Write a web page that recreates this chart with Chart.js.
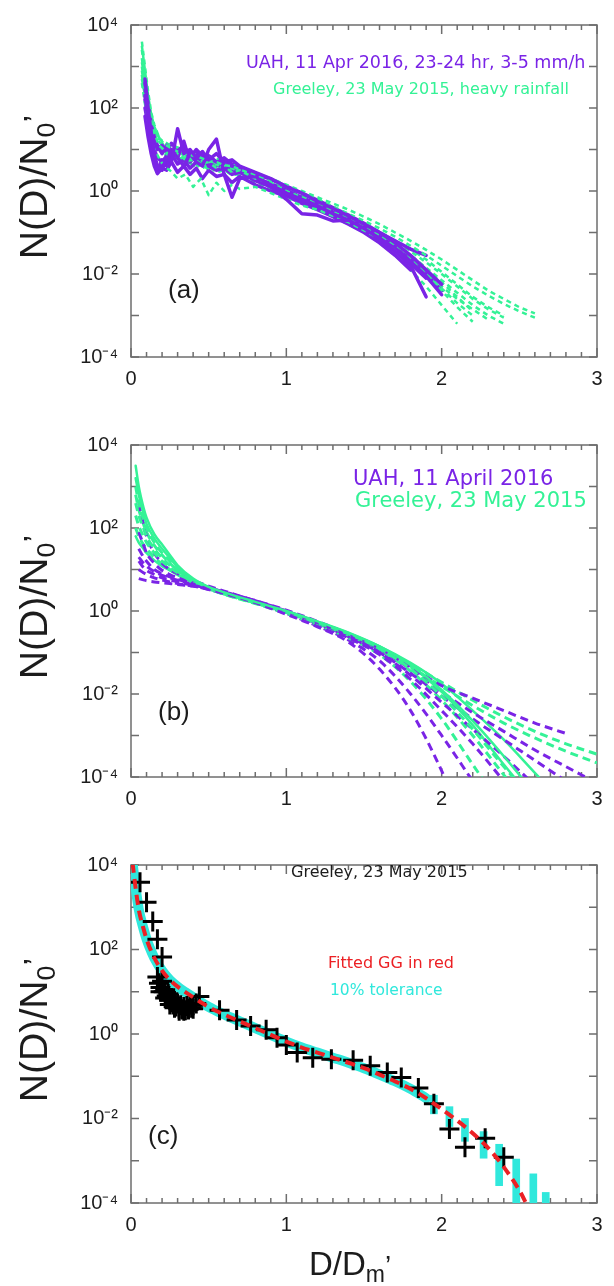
<!DOCTYPE html>
<html>
<head>
<meta charset="utf-8">
<script src="https://cdn.jsdelivr.net/npm/chart.js@4.4.1/dist/chart.umd.min.js"></script>
<style>
  html, body { margin: 0; padding: 0; background: #fff; }
  canvas { display: block; }
</style>
</head>
<body>
<canvas id="panelA" width="614" height="420"></canvas>
<canvas id="panelB" width="614" height="420"></canvas>
<canvas id="panelC" width="614" height="446"></canvas>
<script>
// all series values are log10 of N(D)/N0'

// (a) UAH, 11 Apr 2016 -- observed spectra
const xUahA = [0.09, 0.11, 0.13, 0.15, 0.17, 0.2, 0.23, 0.26, 0.3, 0.34, 0.38, 0.42, 0.46, 0.5, 0.55, 0.6, 0.65, 0.7, 0.8, 0.9, 1.0, 1.1, 1.2, 1.3, 1.4, 1.5, 1.6, 1.7, 1.8, 1.9, 2.0];
const uahA1 = [2.7, 2.0, 1.4, 0.9, 0.6, 0.5, 0.8, 0.7, 1.5, 0.9, 1.0, 0.8, 0.95, 0.75, 0.9, 0.7, 0.75, 0.6, 0.45, 0.3, 0.1, -0.05, -0.25, -0.42, -0.6, -0.8, -1.0, -1.25, -1.55, -1.9, -2.25];
const uahA2 = [2.3, 1.7, 1.2, 0.8, 0.45, 0.6, 0.7, 1.0, 0.8, 0.6, 0.9, 0.7, 0.6, 1.0, 1.25, 0.4, -0.15, 0.3, 0.35, 0.15, -0.05, -0.2, -0.35, -0.55, -0.7, -0.9, -1.15, -1.45, -1.8, -2.55];
const uahA3 = [2.6, 2.1, 1.6, 1.3, 1.1, 0.9, 1.1, 0.85, 0.95, 1.1, 0.8, 1.0, 0.85, 0.8, 0.7, 0.75, 0.6, 0.55, 0.35, 0.1, -0.2, -0.55, -0.58, -0.72, -0.7, -0.85, -1.1, -1.35, -1.7, -2.05, -2.5];
const uahA4 = [2.0, 1.6, 1.0, 0.7, 0.5, 0.75, 0.6, 0.9, 0.65, 0.75, 0.55, 0.7, 0.9, 0.6, 0.5, 0.55, 0.4, 0.45, 0.25, 0.1, -0.05, -0.22, -0.4, -0.55, -0.72, -0.95, -1.2, -1.45, -1.75, -2.1];
const uahA5 = [2.5, 1.9, 1.5, 1.2, 1.0, 1.1, 0.95, 1.15, 1.0, 1.05, 0.9, 0.95, 0.8, 0.85, 0.7, 0.8, 0.65, 0.55, 0.42, 0.28, 0.12, -0.05, -0.22, -0.4, -0.58, -0.78, -1.0, -1.2, -1.4, -1.55];
const uahA6 = [1.8, 1.3, 0.9, 0.6, 0.42, 0.55, 0.5, 0.7, 0.45, 0.6, 0.4, 0.55, 0.3, 0.5, 0.35, 0.4, 0.2, 0.35, 0.15, 0.0, -0.12, -0.3, -0.45, -0.62, -0.8, -1.0, -1.25, -1.55, -1.9];
const uahA7 = [2.2, 1.8, 1.3, 1.0, 0.8, 0.7, 0.85, 0.95, 0.8, 1.2, 0.7, 0.85, 0.7, 0.65, 0.6, 0.65, 0.5, 0.45, 0.3, 0.18, 0.02, -0.15, -0.32, -0.5, -0.66, -0.85, -1.08, -1.35, -1.65, -2.0, -2.4];

// (a) Greeley, 23 May 2015 -- observed spectra
const xGrlA = [0.07, 0.09, 0.11, 0.13, 0.15, 0.18, 0.21, 0.25, 0.3, 0.35, 0.4, 0.45, 0.5, 0.55, 0.6, 0.65, 0.7, 0.8, 0.9, 1.0, 1.1, 1.2, 1.3, 1.4, 1.5, 1.6, 1.7, 1.8, 1.9, 2.0, 2.1, 2.2, 2.3, 2.4, 2.5, 2.6];
const grlA1 = [3.6, 3.0, 2.4, 1.9, 1.6, 1.3, 1.15, 1.05, 0.95, 0.9, 0.85, 0.8, 0.72, 0.7, 0.62, 0.6, 0.52, 0.4, 0.25, 0.1, -0.05, -0.2, -0.37, -0.55, -0.72, -0.9, -1.1, -1.32, -1.55, -1.8, -2.05, -2.3, -2.52, -2.72, -2.9, -3.05];
const grlA2 = [3.2, 2.6, 2.1, 1.7, 1.4, 1.1, 1.0, 0.85, 0.9, 0.75, 0.8, 0.65, 0.7, 0.55, 0.6, 0.45, 0.5, 0.3, 0.2, 0.0, -0.15, -0.3, -0.5, -0.65, -0.85, -1.05, -1.3, -1.55, -1.85, -2.15, -2.45, -2.75, -3.0, -3.2];
const grlA3 = [2.8, 2.2, 1.7, 1.3, 1.0, 0.8, 0.6, 0.5, 0.3, 0.4, 0.1, 0.3, -0.1, 0.2, 0.0, 0.15, 0.05, 0.1, -0.05, -0.2, -0.35, -0.45, -0.6, -0.75, -0.95, -1.15, -1.4, -1.7, -2.0, -2.35, -2.7, -3.0];
const grlA4 = [3.4, 2.8, 2.2, 1.8, 1.5, 1.25, 1.2, 1.1, 1.05, 0.95, 0.9, 0.88, 0.8, 0.78, 0.7, 0.65, 0.58, 0.45, 0.3, 0.15, 0.0, -0.15, -0.3, -0.45, -0.62, -0.8, -1.0, -1.2, -1.42, -1.65, -1.9, -2.15, -2.4, -2.6, -2.8, -2.95];
const grlA5 = [3.0, 2.5, 2.0, 1.6, 1.3, 1.05, 0.95, 0.9, 0.75, 0.85, 0.65, 0.75, 0.55, 0.65, 0.5, 0.55, 0.45, 0.3, 0.12, -0.05, -0.2, -0.38, -0.55, -0.72, -0.9, -1.1, -1.35, -1.65, -2.0, -2.4, -2.8, -3.15];
const grlA6 = [2.6, 2.1, 1.6, 1.35, 1.15, 0.95, 1.0, 0.8, 0.85, 0.7, 0.75, 0.6, 0.65, 0.5, 0.55, 0.45, 0.4, 0.25, 0.1, -0.08, -0.25, -0.42, -0.6, -0.8, -1.0, -1.25, -1.55, -1.9, -2.3, -2.75, -3.2];
const grlA7 = [3.5, 2.9, 2.3, 1.85, 1.55, 1.3, 1.1, 1.0, 0.9, 0.85, 0.78, 0.72, 0.68, 0.6, 0.55, 0.5, 0.42, 0.28, 0.15, 0.0, -0.15, -0.32, -0.48, -0.65, -0.82, -1.0, -1.2, -1.4, -1.65, -1.95, -2.25, -2.55, -2.8, -3.0];
const grlA8 = [2.9, 2.4, 1.9, 1.5, 1.25, 1.0, 0.85, 0.95, 0.7, 0.8, 0.6, 0.7, 0.5, 0.6, 0.45, 0.5, 0.35, 0.2, 0.05, -0.1, -0.28, -0.45, -0.62, -0.8, -1.0, -1.22, -1.45, -1.72, -2.0, -2.3, -2.6, -2.85, -3.1];
const grlA9 = [3.1, 2.7, 2.2, 1.75, 1.45, 1.2, 1.05, 0.95, 1.0, 0.8, 0.85, 0.7, 0.75, 0.62, 0.65, 0.52, 0.55, 0.35, 0.22, 0.05, -0.1, -0.25, -0.42, -0.6, -0.78, -0.98, -1.2, -1.45, -1.72, -2.0, -2.3, -2.6, -2.85, -3.05];
const grlA10 = [2.7, 2.3, 1.8, 1.45, 1.2, 1.0, 0.9, 0.75, 0.8, 0.65, 0.7, 0.55, 0.6, 0.45, 0.5, 0.38, 0.42, 0.22, 0.08, -0.08, -0.22, -0.4, -0.58, -0.75, -0.92, -1.12, -1.35, -1.6, -1.9, -2.2, -2.55, -2.9];

// (b) fitted spectra
const xUahB = [0.05, 0.08, 0.1, 0.15, 0.2, 0.25, 0.3, 0.4, 0.5, 0.6, 0.8, 1.0, 1.2, 1.4, 1.6, 1.8, 2.0, 2.2, 2.4, 2.6, 2.8, 3.0];
const uahB1 = [0.78, 0.75, 0.73, 0.7, 0.68, 0.66, 0.64, 0.6, 0.52, 0.42, 0.2, -0.08, -0.38, -0.75, -1.4, -2.4, -3.85, -5.6];
const uahB2 = [1.2, 1.05, 0.98, 0.88, 0.8, 0.75, 0.7, 0.62, 0.55, 0.45, 0.25, 0.02, -0.25, -0.55, -0.9, -1.35, -1.8, -2.1, -2.4, -2.7, -2.95];
const uahB3 = [1.5, 1.3, 1.2, 1.0, 0.9, 0.82, 0.76, 0.65, 0.56, 0.46, 0.25, 0.0, -0.28, -0.6, -1.0, -1.55, -2.2, -2.85, -3.5, -4.2];
const uahB4 = [1.9, 1.6, 1.4, 1.15, 0.98, 0.88, 0.8, 0.68, 0.57, 0.45, 0.22, -0.04, -0.32, -0.65, -1.05, -1.65, -2.4, -3.2, -4.1];
const uahB5 = [2.6, 2.1, 1.8, 1.4, 1.15, 1.0, 0.9, 0.74, 0.6, 0.48, 0.24, -0.02, -0.3, -0.62, -1.0, -1.5, -2.05, -2.6, -3.1, -3.6, -4.1];
const uahB6 = [1.0, 0.92, 0.88, 0.8, 0.75, 0.7, 0.66, 0.6, 0.52, 0.42, 0.2, -0.06, -0.36, -0.7, -1.2, -2.0, -3.0, -4.1];
const uahB7 = [1.3, 1.15, 1.08, 0.95, 0.86, 0.8, 0.74, 0.64, 0.55, 0.45, 0.24, 0.0, -0.27, -0.57, -0.93, -1.4, -1.95, -2.45, -2.9, -3.35, -3.75, -4.15];

const xGrlB = [0.03, 0.05, 0.08, 0.1, 0.15, 0.2, 0.25, 0.3, 0.4, 0.5, 0.6, 0.8, 1.0, 1.2, 1.4, 1.6, 1.8, 2.0, 2.2, 2.4, 2.6, 2.8, 3.0];
const grlB1 = [3.5, 3.0, 2.5, 2.25, 1.85, 1.6, 1.35, 1.1, 0.78, 0.58, 0.45, 0.22, 0.0, -0.25, -0.52, -0.85, -1.3, -1.9, -2.65, -3.5, -4.4];
const grlB2 = [3.0, 2.6, 2.2, 2.0, 1.65, 1.4, 1.2, 1.0, 0.74, 0.56, 0.43, 0.2, -0.02, -0.27, -0.55, -0.9, -1.4, -2.05, -2.85, -3.75, -4.6];
const grlB3 = [2.6, 2.3, 2.0, 1.8, 1.5, 1.28, 1.1, 0.95, 0.72, 0.55, 0.42, 0.2, -0.03, -0.28, -0.55, -0.88, -1.28, -1.72, -2.15, -2.55, -2.9, -3.2, -3.45];
const grlB4 = [2.3, 2.05, 1.8, 1.65, 1.4, 1.2, 1.05, 0.92, 0.7, 0.54, 0.41, 0.19, -0.04, -0.3, -0.58, -0.92, -1.35, -1.82, -2.28, -2.7, -3.06, -3.38, -3.66];
const grlB5 = [3.2, 2.8, 2.35, 2.1, 1.75, 1.5, 1.28, 1.05, 0.76, 0.57, 0.44, 0.21, -0.01, -0.26, -0.53, -0.86, -1.32, -1.95, -2.75, -3.7, -4.6];
const grlB6 = [2.0, 1.8, 1.6, 1.5, 1.3, 1.12, 1.0, 0.88, 0.68, 0.53, 0.4, 0.18, -0.06, -0.33, -0.65, -1.05, -1.7, -2.6, -3.7, -4.8];
const grlB7 = [2.8, 2.45, 2.1, 1.9, 1.58, 1.35, 1.15, 0.98, 0.73, 0.56, 0.43, 0.2, -0.02, -0.28, -0.57, -0.93, -1.45, -2.15, -3.0, -3.95, -4.9];
const grlB8 = [1.8, 1.65, 1.5, 1.4, 1.22, 1.08, 0.98, 0.87, 0.68, 0.53, 0.41, 0.2, -0.03, -0.28, -0.55, -0.85, -1.25, -1.75, -2.4, -3.1, -3.9, -4.7];

// (c) Greeley observed points, fitted GG and 10% tolerance
const obsD   = [0.058, 0.10, 0.14, 0.17, 0.20,
                0.17, 0.18, 0.19, 0.20, 0.21, 0.22, 0.23, 0.24, 0.25, 0.26, 0.27, 0.28, 0.29, 0.30, 0.31, 0.32, 0.33, 0.34, 0.35, 0.36, 0.37, 0.38, 0.39, 0.40, 0.42,
                0.19, 0.22, 0.25, 0.28, 0.31, 0.34, 0.37, 0.40,
                0.44, 0.57, 0.68, 0.77, 0.87, 0.94, 1.0, 1.07, 1.17, 1.29, 1.43, 1.54, 1.65, 1.74, 1.85, 1.95, 2.05, 2.15, 2.28, 2.40];
const obsLog = [3.59, 3.12, 2.66, 2.24, 1.82,
                1.35, 1.2, 1.1, 1.25, 1.0, 1.05, 0.9, 0.95, 0.8, 0.85, 0.7, 0.78, 0.65, 0.72, 0.6, 0.68, 0.58, 0.64, 0.56, 0.66, 0.6, 0.7, 0.62, 0.68, 0.72,
                1.0, 0.85, 0.7, 0.62, 0.55, 0.55, 0.58, 0.6,
                0.89, 0.56, 0.33, 0.19, 0.1, -0.09, -0.26, -0.44, -0.56, -0.6, -0.62, -0.75, -0.91, -1.03, -1.28, -1.65, -2.25, -2.68, -2.47, -2.92];

const fitD   = [0.01, 0.03, 0.05, 0.08, 0.1, 0.12, 0.15, 0.2, 0.25, 0.3, 0.35, 0.4, 0.5, 0.6, 0.7, 0.8, 0.9, 1.0, 1.1, 1.2, 1.3, 1.4, 1.5, 1.6, 1.7, 1.8, 1.9, 2.0, 2.1, 2.2, 2.3, 2.4, 2.5, 2.55];
const fitLog = [4.05, 3.45, 2.95, 2.5, 2.25, 2.05, 1.8, 1.5, 1.28, 1.12, 0.99, 0.87, 0.64, 0.46, 0.3, 0.14, -0.02, -0.18, -0.32, -0.44, -0.56, -0.68, -0.81, -0.96, -1.12, -1.3, -1.52, -1.78, -2.05, -2.35, -2.7, -3.15, -3.7, -4.05];

const tolD  = [1.95, 2.05, 2.15, 2.27, 2.37, 2.48, 2.59, 2.67];
const tolLo = [-1.89, -2.19, -2.54, -2.94, -3.59, -4.0, -4.0, -4.0];
const tolHi = [-1.45, -1.72, -2.0, -2.31, -2.61, -2.96, -3.31, -3.75];

const PURPLE = 'rgb(122, 36, 230)';
const GREEN = 'rgb(52, 242, 150)';
const CYAN = 'rgb(48, 232, 220)';
const RED = 'rgb(236, 32, 36)';
const AXIS = '#6e6e6e';
const INK = '#1c1c1c';
const SANS = "'Liberation Sans', Arial, sans-serif";
const NOTE = "'DejaVu Sans', sans-serif";

const pts = (xs, logs) => logs.map((v, i) => ({ x: xs[i], y: Math.pow(10, v) }));

const SUP = { '-': '\u207B', '0': '\u2070', '1': '\u00B9', '2': '\u00B2', '3': '\u00B3', '4': '\u2074' };
const decadeLabel = v => '10' + String(Math.round(Math.log10(v))).split('').map(c => SUP[c]).join('');

function solid(logs, xs, color, width) {
  return { data: pts(xs, logs), borderColor: color, borderWidth: width, pointRadius: 0, clip: 0,
           borderJoinStyle: 'round', borderCapStyle: 'round' };
}
function dashed(logs, xs, color, width, dash) {
  return Object.assign(solid(logs, xs, color, width), { borderDash: dash, borderCapStyle: 'butt' });
}
function smooth(ds) {
  ds.cubicInterpolationMode = 'monotone';
  return ds;
}

// box with inward ticks on all four sides
const frame = {
  id: 'frame',
  beforeDatasetsDraw(chart) {
    const { ctx, chartArea: a, scales: { x, y } } = chart;
    ctx.save();
    ctx.strokeStyle = AXIS;
    ctx.lineWidth = 1.5;
    ctx.strokeRect(a.left, a.top, a.right - a.left, a.bottom - a.top);
    ctx.beginPath();
    for (let i = 0; i <= 30; i++) {
      const px = x.getPixelForValue(i / 10);
      const len = i % 10 === 0 ? 9 : 5;
      ctx.moveTo(px, a.bottom); ctx.lineTo(px, a.bottom - len);
      ctx.moveTo(px, a.top); ctx.lineTo(px, a.top + len);
    }
    for (let e = -4; e <= 4; e++) {
      const py = y.getPixelForValue(Math.pow(10, e));
      ctx.moveTo(a.left, py); ctx.lineTo(a.left + 8, py);
      ctx.moveTo(a.right, py); ctx.lineTo(a.right - 8, py);
    }
    ctx.stroke();
    ctx.restore();
  }
};

// text with sub/superscript pieces: [text, size, dy]; stretch widens along the baseline
function drawRich(ctx, segs, cx, cy, angle, stretch) {
  ctx.save();
  ctx.translate(cx, cy);
  ctx.rotate(angle);
  ctx.scale(stretch, 1);
  ctx.textBaseline = 'alphabetic';
  ctx.textAlign = 'left';
  ctx.fillStyle = INK;
  let w = 0;
  segs.forEach(s => { ctx.font = s[1] + 'px ' + SANS; w += ctx.measureText(s[0]).width; });
  let x = -w / 2;
  segs.forEach(s => {
    ctx.font = s[1] + 'px ' + SANS;
    ctx.fillText(s[0], x, s[2]);
    x += ctx.measureText(s[0]).width;
  });
  ctx.restore();
}

function notes(items, withXTitle) {
  return {
    id: 'notes',
    afterDraw(chart) {
      const { ctx, chartArea: a } = chart;
      ctx.save();
      ctx.textBaseline = 'middle';
      ctx.textAlign = 'left';
      items.forEach(n => {
        ctx.font = n.font;
        ctx.fillStyle = n.color;
        ctx.fillText(n.text, n.x, n.y);
      });
      drawRich(ctx, [['N(D)/N', 38, 0], ['0', 26, 8], ['\u2019', 34, 0]], 47, (a.top + a.bottom) / 2 - 4, -Math.PI / 2, 1.03);
      if (withXTitle) {
        drawRich(ctx, [['D/D', 33, 0], ['m', 23, 7], ['\u2019', 28, 0]], 350, a.bottom + 72, 0, 1);
      }
      ctx.restore();
    }
  };
}

function panel(id, datasets, padTop, xAxisH, items, withXTitle) {
  return new Chart(document.getElementById(id), {
    type: 'line',
    data: { datasets },
    options: {
      responsive: false,
      animation: false,
      events: [],
      layout: { padding: { top: padTop, right: 17, left: 0, bottom: 0 } },
      plugins: { legend: { display: false }, tooltip: { enabled: false } },
      scales: {
        x: {
          type: 'linear', min: 0, max: 3, offset: false,
          grid: { display: false, drawTicks: false },
          border: { display: false },
          ticks: { stepSize: 1, padding: 10, color: INK, font: { family: SANS, size: 20 } },
          afterFit: s => { s.height = xAxisH; }
        },
        y: {
          type: 'logarithmic', min: 1e-4, max: 1e4,
          grid: { display: false, drawTicks: false },
          border: { display: false },
          afterBuildTicks: s => { s.ticks = [-4, -2, 0, 2, 4].map(e => ({ value: Math.pow(10, e) })); },
          ticks: { padding: 13, color: INK, font: { family: SANS, size: 20 }, callback: v => decadeLabel(v) },
          afterFit: s => { s.width = 131; }
        }
      }
    },
    plugins: [frame, notes(items, withXTitle)]
  });
}

// (a)
const dsA = [];
const uahA = [uahA1, uahA2, uahA3, uahA4, uahA5, uahA6, uahA7];
const grlA = [grlA1, grlA2, grlA3, grlA4, grlA5, grlA6, grlA7, grlA8, grlA9, grlA10];
grlA.forEach((g, i) => {
  if (uahA[i]) dsA.push(solid(uahA[i], xUahA, PURPLE, 3.5));
  dsA.push(dashed(g, xGrlA, GREEN, 2.5, [5, 4]));
});
panel('panelA', dsA, 14, 63, [
  { text: 'UAH, 11 Apr 2016, 23-24 hr, 3-5 mm/h', x: 246, y: 63, color: PURPLE, font: '17.5px ' + NOTE },
  { text: 'Greeley, 23 May 2015, heavy rainfall', x: 273, y: 90, color: GREEN, font: '16px ' + NOTE },
  { text: '(a)', x: 168, y: 291, color: INK, font: '26px ' + SANS }
], false);

// (b)
const dsB = [];
const uahB = [uahB1, uahB2, uahB3, uahB4, uahB5, uahB6, uahB7];
const grlB = [grlB1, grlB2, grlB3, grlB4, grlB5, grlB6, grlB7, grlB8];
const grlSolid = [true, false, false, false, true, false, false, true];
grlB.forEach((g, i) => {
  dsB.push(smooth(grlSolid[i] ? solid(g, xGrlB, GREEN, 2.5) : dashed(g, xGrlB, GREEN, 3, [8, 5])));
  if (uahB[i]) dsB.push(smooth(dashed(uahB[i], xUahB, PURPLE, 3, [8, 5])));
});
panel('panelB', dsB, 16, 63, [
  { text: 'UAH, 11 April 2016', x: 353, y: 60, color: PURPLE, font: '21px ' + NOTE },
  { text: 'Greeley, 23 May 2015', x: 355, y: 82, color: GREEN, font: '21px ' + NOTE },
  { text: '(b)', x: 158, y: 293, color: INK, font: '26px ' + SANS }
], false);

// (c) -- first dataset is drawn on top
const dsC = [
  smooth(dashed(fitLog, fitD, RED, 4, [10, 6])),
  { data: pts(obsD, obsLog), showLine: false, pointStyle: 'cross', pointRadius: 10,
    pointBorderWidth: 3, pointBorderColor: '#000', borderColor: '#000', clip: 0 },
  { type: 'bar', data: tolD.map((d, i) => ({ x: d, y: [Math.pow(10, tolLo[i]), Math.pow(10, tolHi[i])] })),
    backgroundColor: CYAN, barThickness: 7, clip: 0 },
  smooth(solid(fitLog.slice(0, 27), fitD, CYAN, 10))
];
panel('panelC', dsC, 20, 83, [
  { text: 'Greeley, 23 May 2015', x: 291, y: 33, color: INK, font: '16px ' + NOTE },
  { text: 'Fitted GG in red', x: 328, y: 124, color: RED, font: '16px ' + NOTE },
  { text: '10% tolerance', x: 330, y: 151, color: CYAN, font: '15.5px ' + NOTE },
  { text: '(c)', x: 148, y: 297, color: INK, font: '26px ' + SANS }
], true);
</script>
</body>
</html>
